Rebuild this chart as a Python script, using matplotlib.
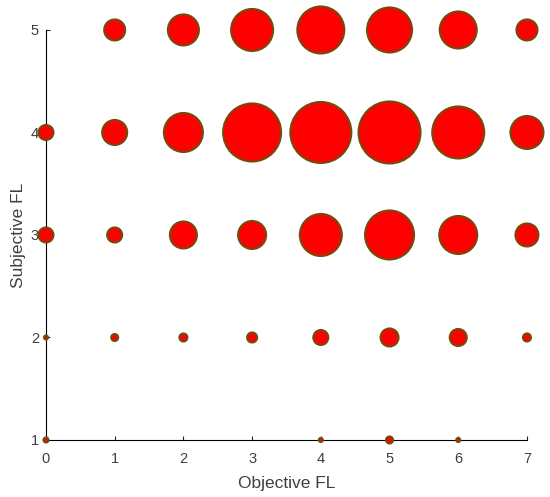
import matplotlib
matplotlib.use("Agg")
import matplotlib.pyplot as plt
import numpy as np

plt.rcParams['font.family'] = ['Liberation Sans', 'DejaVu Sans']

# Objective FL (x) and Subjective FL (y) levels
objective = [0, 1, 2, 3, 4, 5, 6, 7]
subjective = [1, 2, 3, 4, 5]

# bubble diameters (rows: subjective 1..5, cols: objective 0..7)
diam_s1 = [5, 0, 0, 0, 4, 7, 4, 0]
diam_s2 = [4, 7, 8, 10, 15, 18, 17, 8]
diam_s3 = [15, 15, 27, 28, 42, 49, 38, 23]
diam_s4 = [15, 25, 39, 58, 61, 62, 52, 33]
diam_s5 = [0, 21, 31, 42, 47, 45, 37, 21]

rows = [diam_s1, diam_s2, diam_s3, diam_s4, diam_s5]

dpi = 100
fig = plt.figure(figsize=(5.5, 4.97), dpi=dpi)
ax = fig.add_axes([0.0836, 0.1147, 0.8745, 0.825])

for yv, row in zip(subjective, rows):
    d = np.array(row, dtype=float)
    keep = d > 0
    xs = np.array(objective)[keep]
    # diameter in px -> marker size in points^2
    s = (d[keep] * 72.0 / dpi) ** 2
    ax.scatter(xs, np.full(len(xs), yv), s=s, c='#ff0000',
               edgecolors='#744a0e', linewidths=1.5, clip_on=False, zorder=3)

ax.set_xlim(0, 7)
ax.set_ylim(1, 5)
ax.set_xticks(objective)
ax.set_yticks(subjective)
ax.spines['top'].set_visible(False)
ax.spines['right'].set_visible(False)
ax.tick_params(direction='in', length=3, labelsize=10.5, colors='#262626',
               labelcolor='#404040')
ax.tick_params(axis='x', pad=9)
ax.tick_params(axis='y', pad=5)
ax.set_xlabel('Objective FL', fontsize=12.5, color='#404040', labelpad=7)
ax.set_ylabel('Subjective FL', fontsize=12.5, color='#404040', labelpad=3.5)

fig.savefig('out.png', dpi=dpi)
